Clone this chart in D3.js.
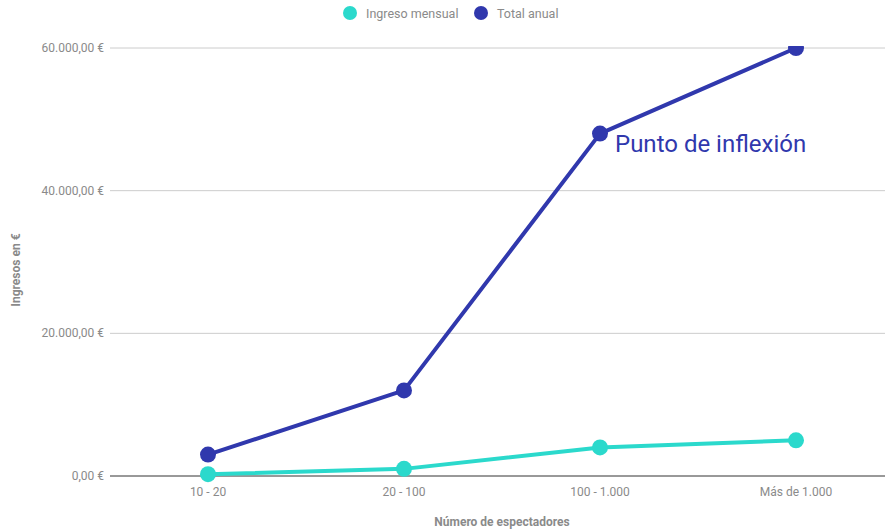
<!DOCTYPE html>
<html><head><meta charset="utf-8">
<script src="https://cdn.jsdelivr.net/npm/d3@7"></script>
<style>body{margin:0;background:#fff}svg{display:block;font-family:Roboto,"Noto Sans",sans-serif}</style>
</head><body>
<svg id="c" width="885" height="530"></svg>
<script>
const categories = ["10 - 20", "20 - 100", "100 - 1.000", "Más de 1.000"];
const seriesNames = ["Ingreso mensual", "Total anual"];
const ingresoMensual = [250, 1000, 4000, 5000];
const totalAnual = [3000, 12000, 48000, 60000];
const yTicks = [0, 20000, 40000, 60000];
const colors = ["#2bd9cc", "#3038ad"];

const svg = d3.select("#c");
const x = d3.scalePoint().domain(categories).range([208, 796]);
const y = d3.scaleLinear().domain([0, 60000]).range([476, 48]);
const fmt = v => d3.format(",.2f")(v).replace(/,/g, "#").replace(/\./g, ",").replace(/#/g, ".") + " €";

svg.append("g").selectAll("line").data(yTicks).join("line")
  .attr("x1", 110).attr("x2", 885)
  .attr("y1", d => y(d)).attr("y2", d => y(d))
  .attr("stroke", d => d === 0 ? "#333" : "#ccc").attr("stroke-width", 1);

svg.append("g").selectAll("text").data(yTicks).join("text")
  .attr("x", 104).attr("y", d => y(d) + 4)
  .attr("text-anchor", "end").attr("font-size", 12).attr("fill", "#8a8a8a")
  .text(fmt);

svg.append("g").selectAll("text").data(categories).join("text")
  .attr("x", d => x(d)).attr("y", 496)
  .attr("text-anchor", "middle").attr("font-size", 12).attr("fill", "#8a8a8a")
  .text(d => d);

svg.append("text").attr("transform", "translate(20,270) rotate(-90)")
  .attr("text-anchor", "middle").attr("font-size", 12).attr("font-weight", "bold").attr("fill", "#8a8a8a")
  .text("Ingresos en €");
svg.append("text").attr("x", 502).attr("y", 526)
  .attr("text-anchor", "middle").attr("font-size", 12).attr("font-weight", "bold").attr("fill", "#8a8a8a")
  .text("Número de espectadores");

svg.append("clipPath").attr("id", "clip").append("rect")
  .attr("x", 110).attr("y", 46).attr("width", 775).attr("height", 440);

const plot = svg.append("g").attr("clip-path", "url(#clip)");
const line = d3.line().x((d, i) => x(categories[i])).y(d => y(d));
[ingresoMensual, totalAnual].forEach((vals, si) => {
  plot.append("path").datum(vals).attr("d", line)
    .attr("fill", "none").attr("stroke", colors[si]).attr("stroke-width", 4)
    .attr("stroke-linejoin", "round");
  plot.append("g").selectAll("circle").data(vals).join("circle")
    .attr("cx", (d, i) => x(categories[i])).attr("cy", d => y(d)).attr("r", 8)
    .attr("fill", colors[si]);
});

svg.append("text").attr("x", 615).attr("y", 152)
  .attr("font-size", 24).attr("fill", colors[1]).text("Punto de inflexión");

const legX = [350, 481];
seriesNames.forEach((n, i) => {
  svg.append("circle").attr("cx", legX[i]).attr("cy", 13).attr("r", 7).attr("fill", colors[i]);
  svg.append("text").attr("x", legX[i] + 16).attr("y", 18).attr("font-size", 12.5).attr("fill", "#8a8a8a").text(n);
});
</script>
</body></html>
